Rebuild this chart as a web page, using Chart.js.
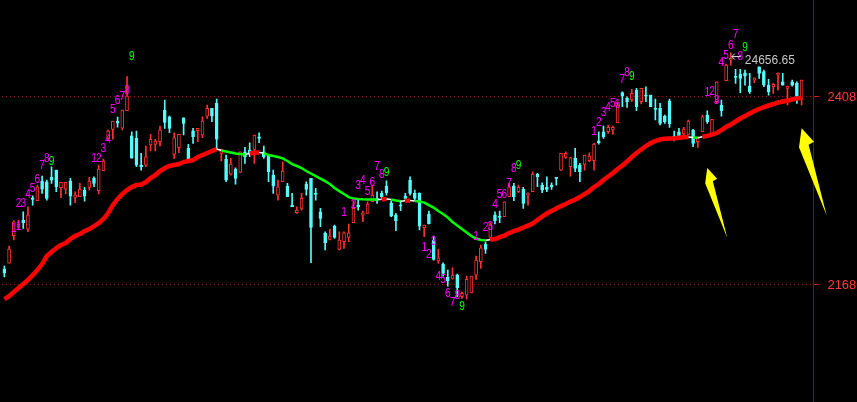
<!DOCTYPE html>
<html>
<head>
<meta charset="utf-8">
<script src="https://cdn.jsdelivr.net/npm/chart.js"></script>
<style>
  html, body { margin: 0; padding: 0; background: #000; }
  #wrap { width: 857px; height: 402px; }
</style>
</head>
<body>
<div id="wrap"><canvas id="kline" width="857" height="402"></canvas></div>
<script>
// daily candles
const opens = [
  21884,21961,22311,22422,22512,22396,22797,22759,23011,23002,
  23059,23152,22926,22909,23015,22803,22810,22896,22931,23046,
  22887,23143,23558,23674,23780,23690,23912,23592,23558,23216,
  23216,23473,23482,23515,23921,23835,23353,23438,23822,23430,
  23656,23656,23601,23844,23943,24007,23366,23289,23101,23165,
  23123,23387,23409,23418,23579,23387,23344,23088,22832,23002,
  22947,22704,22605,22662,22973,23046,22854,22618,22341,22265,
  22435,22136,22234,22290,22477,22704,22576,22598,22746,22790,
  22854,22947,22733,22576,22704,22819,23024,22854,22854,22413,
  22589,22256,21990,21948,21778,21765,21807,21529,21551,21580,
  21807,21978,22200,22290,22576,22563,22554,22810,22947,22874,
  22905,22832,22874,23101,22960,22931,22960,23059,23152,23315,
  23195,23302,23216,23225,23271,23271,23528,23643,23643,23665,
  23758,24143,24071,24049,24177,24027,24113,24113,23943,23943,
  23844,24040,23588,23643,23613,23610,23665,23515,23643,23857,
  23622,24027,23985,24296,24561,24348,24382,24399,24228,24305,
  24476,24412,24241,24219,24369,24283,24199,24283,24263,24071
];
const highs = [
  21923,22179,22503,22512,22618,22682,22823,22960,23075,23024,
  23195,23152,22995,22995,23046,22874,22982,22931,23059,23066,
  23216,23293,23665,23780,23831,23921,24348,23643,23652,23366,
  23460,23610,23546,23716,24049,23844,23630,23610,23822,23482,
  23686,23686,23835,23985,23943,24062,23418,23344,23302,23182,
  23387,23443,23502,23601,23630,23460,23344,23152,23024,23259,
  22982,22854,22682,22854,23002,23046,22918,22662,22362,22396,
  22448,22362,22362,22461,22759,22790,22627,22746,22960,22874,
  22883,23015,22759,22598,22759,22854,23066,22896,22862,22448,
  22627,22307,22136,21965,21871,21901,21820,21593,21794,21794,
  22051,22192,22234,22477,22618,22627,22746,22982,22982,22960,
  22931,22862,23131,23110,22990,23066,22990,23059,23366,23387,
  23315,23430,23238,23344,23374,23494,23643,23716,23729,23716,
  24027,24155,24091,24186,24199,24199,24219,24113,24062,24007,
  23857,24062,23652,23686,23699,23793,23674,23579,23857,23912,
  23802,24283,24049,24510,24656.65,24442,24442,24433,24391,24335,
  24476,24433,24314,24263,24399,24391,24228,24305,24283,24305
];
const lows = [
  21782,21961,22256,22384,22405,22362,22704,22759,22854,22768,
  22982,22874,22797,22845,22704,22733,22810,22755,22896,22938,
  22845,23143,23537,23549,23703,23665,23912,23306,23195,23152,
  23195,23396,23396,23460,23686,23630,23302,23374,23601,23268,
  23494,23515,23566,23815,23771,23430,23268,23002,23088,22973,
  23123,23238,23323,23238,23502,23302,23002,22854,22768,23002,
  22810,22682,22598,22640,22832,21965,22768,22426,22128,22256,
  22277,22128,22149,22234,22477,22640,22490,22598,22746,22726,
  22790,22832,22554,22375,22631,22777,22832,22768,22384,22298,
  22461,21999,21957,21794,21666,21756,21529,21509,21500,21580,
  21752,21893,22085,22277,22461,22477,22554,22810,22759,22862,
  22662,22704,22874,22938,22862,22874,22905,22960,23143,23302,
  23075,23131,23002,23152,23259,23152,23485,23558,23622,23613,
  23758,23963,23956,24027,23912,23998,24027,23963,23793,23729,
  23750,23699,23524,23558,23601,23601,23451,23443,23643,23750,
  23588,24014,23844,24296,24497,24263,24143,24241,24135,24271,
  24327,24219,24113,24135,24177,24241,23985,24228,24007,23985
];
const closes = [
  21833,22140,22490,22461,22477,22576,22777,22938,22909,22790,
  23024,22938,22995,22995,22819,22832,22909,22819,23011,22982,
  23165,23268,23652,23780,23754,23921,24100,23306,23216,23195,
  23323,23546,23524,23665,23763,23686,23566,23610,23750,23280,
  23579,23686,23780,23943,23844,23549,23418,23024,23229,23046,
  23387,23323,23357,23601,23558,23323,23131,22947,22938,23140,
  22810,22682,22640,22790,22905,22418,22841,22534,22221,22307,
  22290,22256,22349,22349,22662,22682,22605,22717,22832,22768,
  22810,22862,22563,22503,22691,22790,22854,22790,22435,22448,
  22461,22008,22029,21829,21734,21807,21645,21573,21752,21794,
  21999,22157,22136,22461,22503,22546,22746,22938,22810,22931,
  22726,22854,23101,23066,22896,22905,22938,23046,23366,23366,
  23310,23174,23131,23344,23332,23485,23502,23579,23699,23699,
  23985,24100,24027,24135,23963,24199,24100,23963,23930,23750,
  23771,23742,23569,23579,23678,23780,23494,23558,23835,23771,
  23802,24283,23912,24497,24583,24340,24327,24356,24155,24335,
  24391,24241,24155,24250,24391,24241,24228,24241,24100,24305
];
// moving average line
const ma = [
  21500,21538,21590,21641,21692,21743,21807,21871,21948,22051,
  22102,22153,22192,22217,22268,22307,22332,22371,22396,22435,
  22473,22525,22601,22704,22781,22845,22896,22934,22960,22967,
  22999,23050,23088,23140,23178,23204,23216,23229,23255,23268,
  23280,23319,23344,23370,23396,23421,23402,23389,23377,23364,
  23357,23353,23364,23374,23378,23370,23344,23332,23319,23302,
  23268,23229,23204,23178,23140,23108,23075,23043,23011,22973,
  22922,22883,22845,22806,22787,22781,22777,22776,22774,22773,
  22778,22783,22774,22762,22753,22759,22763,22755,22751,22736,
  22704,22672,22627,22589,22544,22486,22441,22396,22352,22307,
  22275,22256,22253,22259,22268,22294,22313,22345,22371,22390,
  22416,22441,22467,22512,22557,22595,22627,22659,22691,22717,
  22749,22774,22806,22845,22883,22934,22973,23024,23069,23114,
  23165,23210,23261,23319,23370,23415,23460,23498,23524,23543,
  23552,23556,23557,23567,23572,23575,23570,23567,23578,23590,
  23607,23626,23665,23703,23735,23774,23812,23844,23876,23908,
  23934,23959,23979,23998,24017,24030,24043,24055,24068,24077
];
const yTicks = [21680, 24088];
const highLabel = '24656.65';
// setup counts: [candle, text, price level]
const tdMarks = [
  [2,'1',22409],[3,'1',22435],[3,'2',22726],[4,'3',22726],[5,'4',22841],[6,'5',22918],[7,'6',23037],[8,'7',23207],[9,'8',23302],[10,'9',23268],
  [19,'1',23302],[20,'2',23302],[21,'3',23430],[22,'4',23546],[23,'5',23930],[24,'6',24040],[25,'7',24100],[26,'8',24168],[27,'9',24613],
  [72,'1',22605],[74,'2',22717],[75,'3',22951],[76,'4',23024],[77,'5',22874],[78,'6',22990],[79,'7',23204],[80,'8',23097],[81,'9',23123],
  [89,'1',22162],[90,'2',22072],[91,'3',22243],[92,'4',21785],[93,'5',21752],[94,'6',21573],[95,'7',21458],[96,'8',21542],[97,'9',21401],
  [100,'1',22307],[102,'2',22413],[103,'3',22435],[104,'4',22713],[105,'5',22845],[106,'6',22845],[107,'7',22982],[108,'8',23174],[109,'9',23216],
  [125,'1',23643],[126,'2',23758],[127,'3',23886],[128,'4',23959],[129,'5',24007],[130,'6',23989],[131,'7',24314],[132,'8',24401],[133,'9',24348],
  [149,'1',24143],[150,'2',24155],[151,'3',24049],[152,'4',24527],[153,'5',24625],[154,'6',24754],[155,'7',24895],[156,'8',24613],[157,'9',24724]
];
// yellow arrows point at [candle, price]
const arrowPoints = [[149, 23178], [169, 23687]];

const UP = '#ff3232';
const DOWN = '#54fcfc';
const isUp = closes.map((c, i) => c >= opens[i]);
const labels = Array.from({ length: opens.length + 2 }, (_, i) => i + 1);

const dir = i => Math.sign(ma[i + 1] - ma[i]);
function maStyle(c, red, green, white) {
  const i = c.p0DataIndex;
  if (i > 0 && dir(i) !== dir(i - 1)) return white;
  return dir(i) >= 0 ? red : green;
}

const arrowShape = [[0, 0], [12.4, 13.4], [7, 16.5], [25, 87], [-2.6, 19]];
const arrowScale = [0.8, 1];

const overlay = {
  id: 'overlay',
  afterDatasetsDraw(chart) {
    const { ctx, scales: { x, y } } = chart;
    ctx.save();

    ctx.font = '13px "Liberation Sans", Arial, sans-serif';
    ctx.textAlign = 'center';
    ctx.textBaseline = 'middle';
    tdMarks.forEach(([i, t, p]) => {
      ctx.save();
      ctx.translate(x.getPixelForValue(i), y.getPixelForValue(p));
      ctx.scale(0.78, 1);
      ctx.fillStyle = t === '9' ? '#00ff00' : '#ff00ff';
      ctx.fillText(t, 0, 0);
      ctx.restore();
    });

    // highest price mark
    const hi = highs.indexOf(Math.max(...highs));
    const hx = x.getPixelForValue(hi);
    const hy = y.getPixelForValue(highs[hi]);
    ctx.strokeStyle = '#e6e6e6';
    ctx.lineWidth = 1;
    ctx.beginPath();
    ctx.moveTo(hx + 1, hy + 4);
    ctx.lineTo(hx + 10, hy + 4);
    ctx.moveTo(hx + 1, hy + 4);
    ctx.lineTo(hx + 4, hy + 1);
    ctx.moveTo(hx + 1, hy + 4);
    ctx.lineTo(hx + 4, hy + 7);
    ctx.stroke();
    ctx.font = '12px "Liberation Sans", Arial, sans-serif';
    ctx.textAlign = 'left';
    ctx.fillStyle = '#c8c8c8';
    ctx.fillText(highLabel, hx + 14, hy + 8);

    // arrows
    ctx.fillStyle = '#ffff00';
    arrowPoints.forEach(([i, p], k) => {
      const tx = x.getPixelForValue(i), ty = y.getPixelForValue(p), s = arrowScale[k];
      ctx.beginPath();
      arrowShape.forEach(([dx, dy], j) => {
        const px = tx + dx * s, py = ty + dy * s;
        j ? ctx.lineTo(px, py) : ctx.moveTo(px, py);
      });
      ctx.closePath();
      ctx.fill();
    });
    ctx.restore();
  }
};

new Chart(document.getElementById('kline'), {
  type: 'bar',
  data: {
    labels: labels,
    datasets: [
      {
        type: 'line',
        data: ma,
        order: 0,
        pointRadius: 0,
        tension: 0,
        borderColor: '#ff0000',
        borderWidth: 4.5,
        segment: {
          borderColor: c => maStyle(c, '#ff0000', '#00ff00', '#ffffff'),
          borderWidth: c => maStyle(c, 4.5, 2.5, 1.5)
        }
      },
      {
        data: opens.map((o, i) => [Math.min(o, closes[i]), Math.max(o, closes[i])]),
        order: 1,
        grouped: false,
        barThickness: 3,
        minBarLength: 1,
        borderSkipped: false,
        borderWidth: 1,
        backgroundColor: isUp.map(u => u ? '#000000' : DOWN),
        borderColor: isUp.map(u => u ? UP : DOWN)
      },
      {
        data: lows.map((l, i) => [l, highs[i]]),
        order: 2,
        grouped: false,
        barThickness: 1,
        backgroundColor: isUp.map(u => u ? UP : DOWN)
      }
    ]
  },
  options: {
    responsive: false,
    animation: false,
    devicePixelRatio: 1,
    layout: { padding: { left: 2, right: 0, top: 0, bottom: 0 } },
    plugins: { legend: { display: false }, tooltip: { enabled: false } },
    scales: {
      x: { display: false, offset: true, grid: { display: false } },
      y: {
        position: 'right',
        min: 20181.4,
        max: 25330.4,
        afterBuildTicks: s => { s.ticks = yTicks.map(v => ({ value: v })); },
        afterFit: s => { s.width = 43.6; s.paddingTop = 0; s.paddingBottom = 0; },
        ticks: {
          color: '#ff3c3c',
          padding: 8,
          font: { size: 13, family: '"Liberation Sans", Arial, sans-serif' },
          callback: v => String(v)
        },
        grid: { color: '#9a1414', lineWidth: 1, tickLength: 6, tickColor: '#c81e1e' },
        border: { display: true, color: '#8c0a0a', width: 1, dash: [1, 3] }
      }
    }
  },
  plugins: [overlay]
});
</script>
</body>
</html>
